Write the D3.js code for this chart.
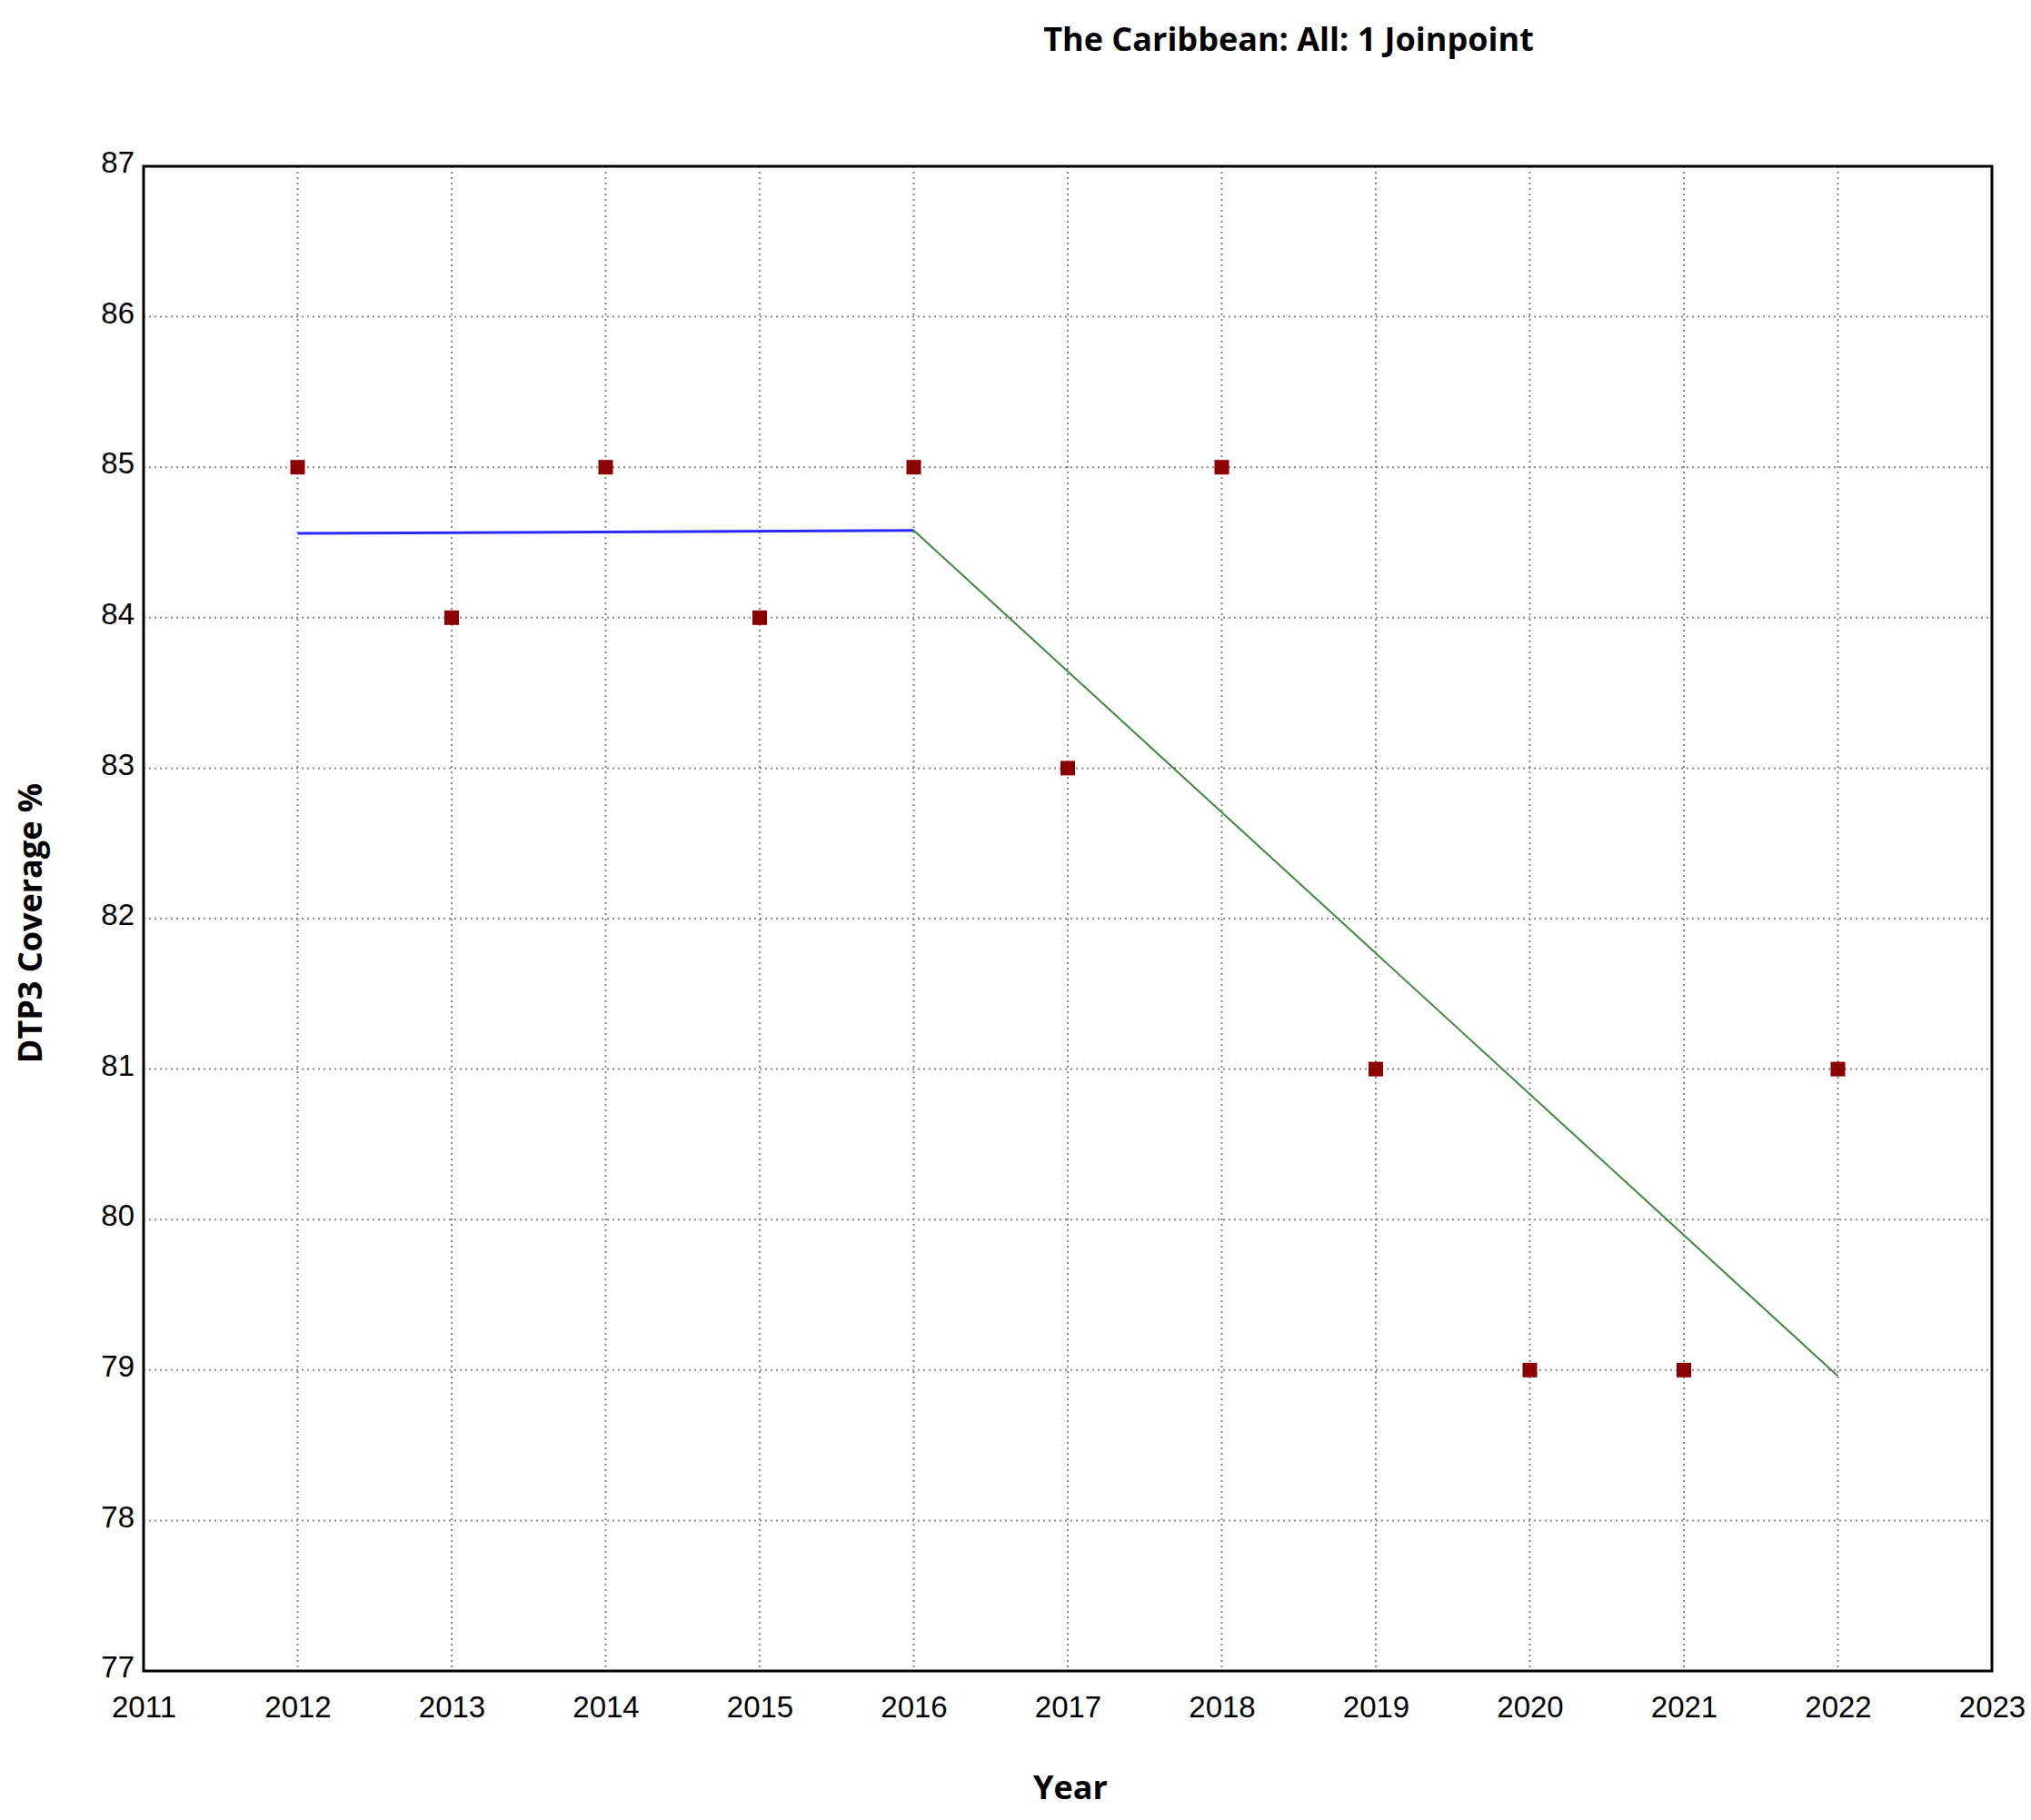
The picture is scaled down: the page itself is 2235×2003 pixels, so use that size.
<!DOCTYPE html><html><head><meta charset="utf-8"><script src="https://cdn.jsdelivr.net/npm/d3@7"></script>
<style>body{margin:0;background:#fff}</style></head><body><svg id="c" width="2235" height="2003"></svg>
<script>
const years=[2012,2013,2014,2015,2016,2017,2018,2019,2020,2021,2022];
const observed=[85,84,85,84,85,83,85,81,79,79,81];
const seg1Years=[2012,2016], seg1Vals=[84.56,84.58];
const seg2Years=[2016,2022], seg2Vals=[84.58,78.96];
const xTicks=d3.range(2011,2024), yTicks=d3.range(77,88);
const svg=d3.select("#c"), L=158,T=183,R=2192,B=1839;
const x=d3.scaleLinear().domain([2011,2023]).range([L,R]);
const y=d3.scaleLinear().domain([77,87]).range([B,T]);
const g=svg.append("g");
g.selectAll(".gx").data(xTicks.slice(1,-1)).join("line").attr("x1",d=>x(d)).attr("x2",d=>x(d)).attr("y1",T).attr("y2",B).attr("stroke","#888").attr("stroke-width",2).attr("stroke-dasharray","2,4");
g.selectAll(".gy").data(yTicks.slice(1,-1)).join("line").attr("y1",d=>y(d)).attr("y2",d=>y(d)).attr("x1",L).attr("x2",R).attr("stroke","#888").attr("stroke-width",2).attr("stroke-dasharray","2,4");
const xa=svg.append("g").attr("transform",`translate(0,${B})`).call(d3.axisBottom(x).tickValues(xTicks).tickFormat(d3.format("d")).tickSize(0).tickPadding(28));
const ya=svg.append("g").attr("transform",`translate(${L},0)`).call(d3.axisLeft(y).tickValues(yTicks).tickSize(0).tickPadding(10));
[xa,ya].forEach(a=>{a.select(".domain").remove();a.selectAll("text").attr("font-family","Liberation Sans, Arial").attr("font-size",33).attr("fill","#000");});
ya.selectAll("text").attr("dy","0.2em");
svg.append("rect").attr("x",L).attr("y",T).attr("width",R-L).attr("height",B-T).attr("fill","none").attr("stroke","#000").attr("stroke-width",3);
const line=d3.line();
svg.append("path").attr("d",line(seg1Years.map((d,i)=>[x(d),y(seg1Vals[i])]))).attr("stroke","#2a2aff").attr("stroke-width",3).attr("fill","none");
svg.append("path").attr("d",line(seg2Years.map((d,i)=>[x(d),y(seg2Vals[i])]))).attr("stroke","#3a8a3a").attr("stroke-width",2).attr("fill","none");
svg.selectAll(".pt").data(years).join("rect").attr("x",d=>x(d)-8).attr("y",(d,i)=>y(observed[i])-8).attr("width",16).attr("height",16).attr("fill","#8b0000");
svg.append("text").attr("x",1418).attr("y",56).attr("text-anchor","middle").attr("font-family","Open Sans, Arial").attr("font-weight","bold").attr("font-size",36).text("The Caribbean: All: 1 Joinpoint");
svg.append("text").attr("x",1178).attr("y",1980).attr("text-anchor","middle").attr("font-family","Open Sans, Arial").attr("font-weight","bold").attr("font-size",36).text("Year");
svg.append("text").attr("transform",`translate(46,${(T+B)/2+5}) rotate(-90)`).attr("text-anchor","middle").attr("font-family","Open Sans, Arial").attr("font-weight","bold").attr("font-size",36).text("DTP3 Coverage %");
</script></body></html>
